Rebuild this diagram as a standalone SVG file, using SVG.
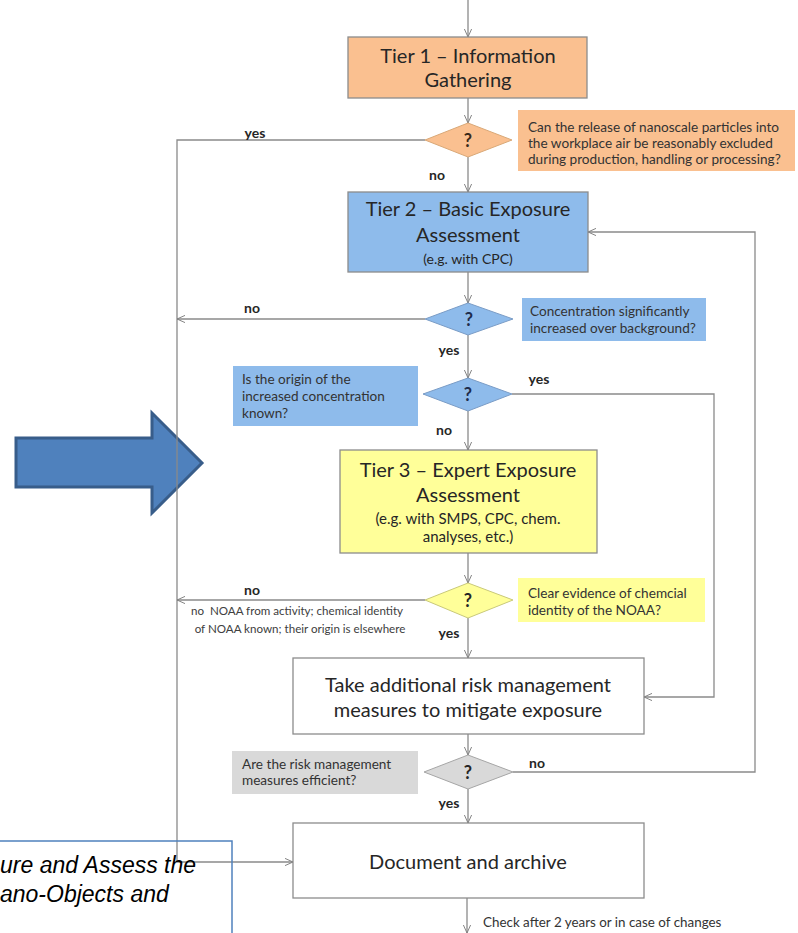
<svg xmlns="http://www.w3.org/2000/svg" width="798" height="933" viewBox="0 0 798 933">
<defs>
<marker id="ah" viewBox="0 0 10 10" refX="10" refY="5" markerWidth="8" markerHeight="8" markerUnits="userSpaceOnUse" orient="auto">
<polyline points="0,0.5 10,5 0,9.5" fill="none" stroke="#7f7f7f" stroke-width="1.2"/>
</marker>
<style>
.ln{fill:none;stroke:#8a8a8a;stroke-width:1.3}
.box{stroke:#8c8c8c;stroke-width:1.3}
.t{font-family:Lato,"Open Sans",sans-serif;fill:#262626;text-anchor:middle}
.big{font-size:20px}
.sub{font-size:15px}
.note{font-family:Lato,"Open Sans",sans-serif;font-size:13.6px;fill:#333}
.lab{font-family:Lato,"Open Sans",sans-serif;font-size:14px;font-weight:bold;fill:#262626;text-anchor:middle}
.q{font-family:Lato,"Open Sans",sans-serif;font-size:18px;font-weight:bold;text-anchor:middle}
.small{font-family:Lato,"Open Sans",sans-serif;font-size:11.6px;fill:#404040;text-anchor:middle}
.cap{font-family:"Liberation Sans",Arial,sans-serif;font-style:italic;font-size:23px;fill:#000}
</style>
</defs>
<rect width="798" height="933" fill="#fff"/>

<g id="bigArrow">
<polygon points="16,438 152,438 152,413 202,463 152,513 152,487 16,487" fill="#4f81bd" stroke="#385d8a" stroke-width="3" stroke-linejoin="miter"/>
</g>

<g id="connectors">
<line class="ln" x1="468" y1="0" x2="468" y2="37" marker-end="url(#ah)"/>
<line class="ln" x1="468" y1="98" x2="468" y2="123" marker-end="url(#ah)"/>
<polyline class="ln" points="425,140 177,140 177,862 293,862" marker-end="url(#ah)"/>
<line class="ln" x1="468" y1="157" x2="468" y2="192" marker-end="url(#ah)"/>
<line class="ln" x1="468" y1="272" x2="468" y2="303" marker-end="url(#ah)"/>
<line class="ln" x1="425" y1="319" x2="177" y2="319" marker-end="url(#ah)"/>
<line class="ln" x1="468" y1="335" x2="468" y2="378" marker-end="url(#ah)"/>
<polyline class="ln" points="512,394 714,394 714,697 644,697" marker-end="url(#ah)"/>
<line class="ln" x1="468" y1="411" x2="468" y2="450" marker-end="url(#ah)"/>
<line class="ln" x1="468" y1="553" x2="468" y2="583" marker-end="url(#ah)"/>
<line class="ln" x1="425" y1="600" x2="177" y2="600" marker-end="url(#ah)"/>
<line class="ln" x1="468" y1="618" x2="468" y2="658" marker-end="url(#ah)"/>
<line class="ln" x1="468" y1="734" x2="468" y2="755" marker-end="url(#ah)"/>
<polyline class="ln" points="513,772 755,772 755,232 588,232" marker-end="url(#ah)"/>
<line class="ln" x1="468" y1="789" x2="468" y2="823" marker-end="url(#ah)"/>
<line class="ln" x1="467" y1="898" x2="467" y2="933" marker-end="url(#ah)"/>
</g>

<g id="tier1">
<rect class="box" x="348" y="37" width="239" height="61" fill="#fac090"/>
<text class="t big" x="468" y="63">Tier 1 – Information</text>
<text class="t big" x="468" y="87">Gathering</text>
</g>

<g id="q1">
<polygon points="425,140 468,123 512,140 468,157" fill="#fac090" stroke="#d9a877" stroke-width="1"/>
<text class="q" x="468" y="147" fill="#3a2a1a">?</text>
</g>
<g id="note1">
<rect x="518" y="110" width="277" height="61" fill="#fac090"/>
<text class="note" x="528" y="132">Can the release of nanoscale particles into</text>
<text class="note" x="528" y="148">the workplace air be reasonably excluded</text>
<text class="note" x="528" y="164">during production, handling or processing?</text>
</g>

<g id="tier2">
<rect class="box" x="348" y="192" width="240" height="80" fill="#8ebbeb"/>
<text class="t big" x="468" y="216">Tier 2 – Basic Exposure</text>
<text class="t big" x="468" y="242">Assessment</text>
<text class="t" x="468" y="264" font-size="14">(e.g. with CPC)</text>
</g>

<g id="q2">
<polygon points="425,319 468,303 513,319 468,335" fill="#8ebbeb" stroke="#7a9cc6" stroke-width="1"/>
<text class="q" x="469" y="326" fill="#1f2d4d">?</text>
</g>
<g id="note2">
<rect x="522" y="298" width="184" height="43" fill="#8ebbeb"/>
<text class="note" x="530" y="316">Concentration significantly</text>
<text class="note" x="530" y="333">increased over background?</text>
</g>

<g id="q3">
<polygon points="423,394 468,378 512,394 468,411" fill="#8ebbeb" stroke="#7a9cc6" stroke-width="1"/>
<text class="q" x="468" y="401" fill="#1f2d4d">?</text>
</g>
<g id="note3">
<rect x="233" y="366" width="185" height="60" fill="#8ebbeb"/>
<text class="note" x="242" y="384">Is the origin of the</text>
<text class="note" x="242" y="401">increased concentration</text>
<text class="note" x="242" y="418">known?</text>
</g>

<g id="tier3">
<rect class="box" x="340" y="450" width="257" height="103" fill="#ffff99"/>
<text class="t big" x="468" y="477">Tier 3 – Expert Exposure</text>
<text class="t big" x="468" y="502">Assessment</text>
<text class="t sub" x="468" y="524">(e.g. with SMPS, CPC, chem.</text>
<text class="t sub" x="468" y="542">analyses, etc.)</text>
</g>

<g id="q4">
<polygon points="425,600 468,583 513,600 468,618" fill="#ffff99" stroke="#c9c97a" stroke-width="1"/>
<text class="q" x="468" y="607" fill="#262626">?</text>
</g>
<g id="note4">
<rect x="518" y="578" width="187" height="44" fill="#ffff99"/>
<text class="note" x="528" y="598">Clear evidence of chemcial</text>
<text class="note" x="528" y="615">identity of the NOAA?</text>
</g>

<g id="takeMeasures">
<rect class="box" x="293" y="658" width="351" height="76" fill="#fff"/>
<text class="t big" x="468" y="692">Take additional risk management</text>
<text class="t big" x="468" y="717">measures to mitigate exposure</text>
</g>

<g id="q5">
<polygon points="424,772 468,755 513,772 468,789" fill="#d9d9d9" stroke="#a6a6a6" stroke-width="1"/>
<text class="q" x="468" y="779" fill="#262626">?</text>
</g>
<g id="note5">
<rect x="232" y="751" width="186" height="43" fill="#d9d9d9"/>
<text class="note" x="242" y="769">Are the risk management</text>
<text class="note" x="242" y="785">measures efficient?</text>
</g>

<g id="document">
<rect class="box" x="293" y="823" width="351" height="75" fill="#fff"/>
<text class="t big" x="468" y="869">Document and archive</text>
</g>

<g id="labels">
<text class="lab" x="255" y="138">yes</text>
<text class="lab" x="437" y="180">no</text>
<text class="lab" x="252" y="313">no</text>
<text class="lab" x="449" y="355">yes</text>
<text class="lab" x="539" y="384">yes</text>
<text class="lab" x="444" y="435">no</text>
<text class="lab" x="252" y="595">no</text>
<text class="lab" x="449" y="638">yes</text>
<text class="lab" x="537" y="768">no</text>
<text class="lab" x="449" y="808">yes</text>
<text class="small" x="297" y="615" xml:space="preserve">no  NOAA from activity; chemical identity</text>
<text class="small" x="300" y="633">of NOAA known; their origin is elsewhere</text>
<text font-family="Lato,'Open Sans',sans-serif" font-size="13.4" fill="#333" x="483" y="927">Check after 2 years or in case of changes</text>
</g>

<g id="captionFrame">
<rect x="-2" y="841" width="234" height="100" fill="none" stroke="#4f81bd" stroke-width="1.5"/>
<text class="cap" x="0" y="873">ure and Assess the</text>
<text class="cap" x="0" y="902">ano-Objects and</text>
</g>
</svg>
